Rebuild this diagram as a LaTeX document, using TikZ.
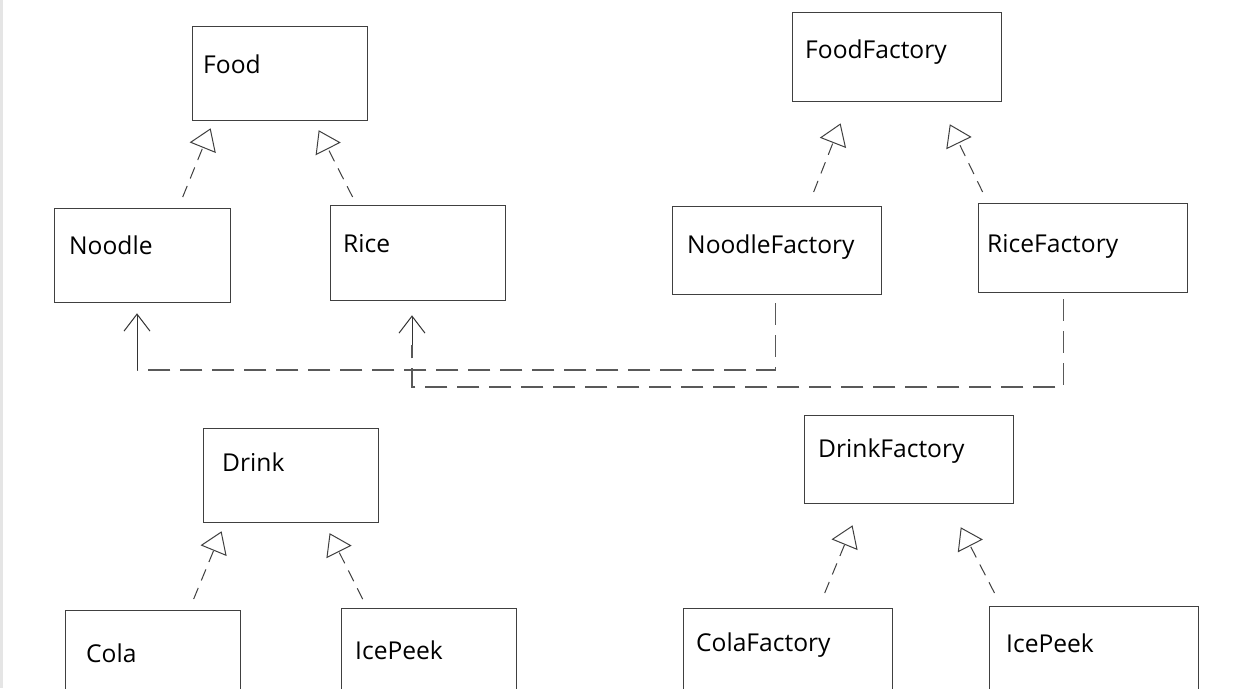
\documentclass[tikz,border=0pt]{standalone}
\usepackage{fontspec}
\setmainfont{Open Sans}
\usetikzlibrary{arrows.meta,calc}
\begin{document}
\begin{tikzpicture}[x=1pt,y=-1pt,
  box/.style={draw=black!75, line width=1.3pt, rectangle, inner sep=0pt, anchor=north west},
  lbl/.style={anchor=base west, inner sep=0pt, font=\fontsize{24.6}{28}\selectfont, text=black},
  real/.style={draw=black!75, line width=1pt, dash pattern=on 12pt off 8pt,
    -{Triangle[open, length=21pt, width=28pt, line width=1pt]}},
  depline/.style={draw=black!65, line width=1.4pt, dash pattern=on 22pt off 10pt},
  deparrow/.style={draw=black!80, line width=1pt,
    -{Straight Barb[length=17pt, width=26pt, line width=1pt]}},
  wbox/.style={box, minimum width=#1},
]
\useasboundingbox (0,0) rectangle (1250,688);
\clip (0,0) rectangle (1250,688);
\fill[white] (0,0) rectangle (1250,688);
\fill[gray!20] (0,0) rectangle (2.5,688);

% boxes
\node[wbox=175pt, minimum height=94pt] (food) at (192,26) {};
\node[wbox=176pt, minimum height=94pt] (noodle) at (54,208) {};
\node[wbox=175pt, minimum height=95pt] (rice) at (330,205) {};
\node[wbox=209pt, minimum height=89pt] (foodfactory) at (792,12) {};
\node[wbox=209pt, minimum height=88pt] (noodlefactory) at (672,206) {};
\node[wbox=209pt, minimum height=89pt] (ricefactory) at (978,203) {};
\node[wbox=175pt, minimum height=94pt] (drink) at (203,428) {};
\node[wbox=209pt, minimum height=88pt] (drinkfactory) at (804,415) {};
\node[wbox=175pt, minimum height=94pt] (cola) at (65,610) {};
\node[wbox=175pt, minimum height=94pt] (icepeek) at (341,608) {};
\node[wbox=209pt, minimum height=94pt] (colafactory) at (683,608) {};
\node[wbox=209pt, minimum height=94pt] (icepeekb) at (989,606) {};

% labels
\node[lbl] (food-t) at ([shift={(11pt,-47pt)}]food.north west) {Food};
\node[lbl] (noodle-t) at ([shift={(15pt,-46pt)}]noodle.north west) {Noodle};
\node[lbl] (rice-t) at ([shift={(13pt,-47pt)}]rice.north west) {Rice};
\node[lbl] (foodfactory-t) at ([shift={(13pt,-46pt)}]foodfactory.north west) {FoodFactory};
\node[lbl] (noodlefactory-t) at ([shift={(15pt,-47pt)}]noodlefactory.north west) {NoodleFactory};
\node[lbl] (ricefactory-t) at ([shift={(9pt,-49pt)}]ricefactory.north west) {RiceFactory};
\node[lbl] (drink-t) at ([shift={(19pt,-43pt)}]drink.north west) {Drink};
\node[lbl] (drinkfactory-t) at ([shift={(14pt,-42pt)}]drinkfactory.north west) {DrinkFactory};
\node[lbl] (cola-t) at ([shift={(21pt,-52pt)}]cola.north west) {Cola};
\node[lbl] (icepeek-t) at ([shift={(14pt,-51pt)}]icepeek.north west) {IcePeek};
\node[lbl] (colafactory-t) at ([shift={(13pt,-43pt)}]colafactory.north west) {ColaFactory};
\node[lbl] (icepeekb-t) at ([shift={(17pt,-46pt)}]icepeekb.north west) {IcePeek};

% realisations
\draw[real, shorten <=11.8pt, shorten >=7.5pt] ([xshift=35.6pt]noodle.north) -- ([xshift=-66.7pt]food.south);
\draw[real, shorten <=9pt, shorten >=10pt] ([xshift=-61.5pt]rice.north) -- ([xshift=34pt]food.south);
\draw[real, shorten <=15pt, shorten >=22.6pt] ([xshift=31pt]noodlefactory.north) -- ([xshift=-48.3pt]foodfactory.south);
\draw[real, shorten <=12.2pt, shorten >=24.4pt] ([xshift=-95.2pt]ricefactory.north) -- ([xshift=42pt]foodfactory.south);
\draw[real, shorten <=11.9pt, shorten >=8.6pt] ([xshift=36pt]cola.north) -- ([xshift=-66.3pt]drink.south);
\draw[real, shorten <=10pt, shorten >=11pt] ([xshift=-62pt]icepeek.north) -- ([xshift=33.5pt]drink.south);
\draw[real, shorten <=16.2pt, shorten >=22.7pt] ([xshift=30.4pt]colafactory.north) -- ([xshift=-48pt]drinkfactory.south);
\draw[real, shorten <=14.6pt, shorten >=25.8pt] ([xshift=-93pt]icepeekb.north) -- ([xshift=39.8pt]drinkfactory.south);

% dependencies
\coordinate (n1) at (137,370);
\draw[depline, shorten <=8pt] ([xshift=-1.5pt]noodlefactory.south) |- (n1);
\draw[deparrow, shorten >=10pt] (n1) -- (n1 |- noodle.south);
\coordinate (r1) at (412,387);
\coordinate (r2) at (412,345);
\draw[depline, shorten <=6pt] ([xshift=-19.5pt]ricefactory.south) |- (r1) -- (r2);
\draw[deparrow, shorten >=14pt] (r2) -- (r2 |- rice.south);
\end{tikzpicture}
\end{document}
